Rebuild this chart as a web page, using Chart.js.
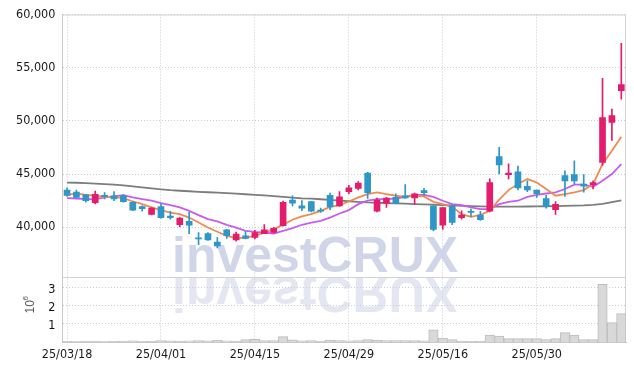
<!DOCTYPE html>
<html>
<head>
<meta charset="utf-8">
<script src="https://cdn.jsdelivr.net/npm/chart.js@4.4.1/dist/chart.umd.min.js"></script>
<style>
    html, body { margin: 0; padding: 0; background: #fff; }
    #wrap { width: 634px; height: 370px; }
</style>
</head>
<body>
<div id="wrap"><canvas id="stock-chart" width="634" height="370"></canvas></div>
<script>
const dates = [
    "25/03/18", "25/03/19", "25/03/20", "25/03/21", "25/03/24", "25/03/25", "25/03/26", "25/03/27", "25/03/28", "25/03/31",
    "25/04/01", "25/04/02", "25/04/03", "25/04/04", "25/04/07", "25/04/08", "25/04/09", "25/04/10", "25/04/11", "25/04/14",
    "25/04/15", "25/04/16", "25/04/17", "25/04/18", "25/04/21", "25/04/22", "25/04/23", "25/04/24", "25/04/25", "25/04/28",
    "25/04/29", "25/04/30", "25/05/02", "25/05/07", "25/05/08", "25/05/09", "25/05/12", "25/05/13", "25/05/14", "25/05/15",
    "25/05/16", "25/05/19", "25/05/20", "25/05/21", "25/05/22", "25/05/23", "25/05/26", "25/05/27", "25/05/28", "25/05/29",
    "25/05/30", "25/06/02", "25/06/04", "25/06/05", "25/06/09", "25/06/10", "25/06/11", "25/06/12", "25/06/13", "25/06/16"
];
const openPrices = [
    43500, 43300, 43050, 42300, 43000, 42950, 42950, 42350, 41950, 41200,
    41950, 41050, 40250, 40550, 38950, 39400, 38600, 39750, 38800, 39200,
    39050, 39400, 39500, 40150, 42550, 42000, 42400, 41600, 43000, 42000,
    43350, 43650, 45100, 41500, 42250, 42800, 42950, 42750, 43450, 42000,
    40200, 42000, 40900, 41500, 41150, 41500, 46650, 44950, 45200, 43850,
    43500, 42700, 41650, 44850, 44950, 44050, 44000, 46100, 49850, 52850
];
const highPrices = [
    43700, 43500, 43100, 43400, 43250, 43350, 43050, 42400, 42000, 41850,
    42200, 41500, 40900, 41400, 39500, 39500, 39050, 39800, 39550, 39600,
    39700, 40250, 40000, 42450, 42950, 42500, 42400, 41800, 43200, 43350,
    43950, 44300, 45150, 42750, 42800, 43150, 44000, 43200, 43650, 42000,
    41850, 42000, 41550, 41700, 41500, 44550, 47500, 45950, 45750, 44350,
    43500, 43000, 42400, 45300, 46250, 44950, 44350, 54000, 51100, 57300
];
const lowPrices = [
    42900, 42750, 42350, 42200, 42650, 42500, 42350, 41550, 41500, 41150,
    40850, 40750, 40050, 39400, 38350, 38750, 38050, 38950, 38700, 38900,
    38900, 39400, 39450, 40100, 42000, 41550, 41450, 41400, 41650, 41950,
    43150, 43500, 42700, 41450, 41850, 42200, 42700, 42150, 43000, 39650,
    39800, 40250, 40750, 41000, 40650, 41450, 45000, 44550, 43500, 43350,
    42800, 41800, 41200, 42900, 44100, 43300, 43600, 45800, 48150, 52050
];
const closePrices = [
    43000, 42800, 42500, 43100, 42900, 42650, 42400, 41600, 41750, 41800,
    40900, 40900, 40850, 40200, 38900, 38800, 38250, 39200, 39350, 38950,
    39500, 39750, 39900, 42350, 42250, 41800, 41500, 41500, 41900, 42850,
    43700, 44150, 43250, 42550, 42750, 42250, 42750, 43150, 43250, 39800,
    41850, 40450, 41150, 41400, 40700, 44200, 45850, 45100, 43700, 43500,
    43150, 41950, 42150, 44350, 44350, 43850, 44200, 50300, 50500, 53400
];
const volumes = [
    40000, 30000, 50000, 50000, 30000, 40000, 50000, 60000, 40000, 50000,
    80000, 60000, 50000, 70000, 80000, 60000, 90000, 70000, 50000, 130000,
    150000, 80000, 80000, 300000, 120000, 60000, 80000, 50000, 100000, 80000,
    70000, 80000, 130000, 100000, 80000, 80000, 80000, 80000, 70000, 670000,
    220000, 130000, 50000, 50000, 50000, 390000, 330000, 190000, 190000, 190000,
    190000, 130000, 190000, 520000, 390000, 130000, 130000, 3200000, 1070000, 1570000
];
// moving averages
const ma5 = [
    43050, 43170, 43050, 42960, 42860, 42860, 42740, 42420, 42180, 41860,
    41610, 41380, 41230, 40910, 40440, 39970, 39570, 39190, 38970, 39030,
    39190, 39500, 39820, 40230, 40700, 41010, 41230, 41540, 41920, 42080,
    42420, 42800, 43120, 43270, 43120, 42960, 42860, 42960, 42900, 42390,
    42170, 41920, 41230, 40980, 41170, 41540, 42600, 43490, 44060, 44530,
    44210, 43590, 42960, 43120, 43270, 43490, 44060, 45940, 47190, 48510
];
const ma10 = [
    42740, 42700, 42640, 42640, 42800, 42900, 43020, 42800, 42640, 42490,
    42270, 42080, 41860, 41540, 41140, 40760, 40540, 40230, 39970, 39660,
    39570, 39500, 39410, 39660, 39920, 40230, 40440, 40600, 40910, 41290,
    41610, 42170, 42490, 42650, 42650, 42700, 42860, 43050, 43050, 42860,
    42490, 42170, 42080, 41860, 41700, 41700, 42170, 42390, 42490, 42860,
    43050, 43170, 43270, 43590, 44000, 44000, 43800, 44370, 45000, 45940
];
const ma60 = [
    44200, 44180, 44150, 44100, 44050, 44000, 43930, 43850, 43750, 43650,
    43560, 43480, 43430, 43380, 43330, 43290, 43250, 43200, 43150, 43100,
    43050, 43000, 42930, 42850, 42780, 42720, 42680, 42630, 42570, 42500,
    42440, 42380, 42330, 42300, 42270, 42240, 42210, 42180, 42150, 42120,
    42080, 42050, 42020, 41990, 41960, 41940, 41930, 41930, 41940, 41950,
    41960, 41970, 41990, 42010, 42030, 42060, 42110, 42200, 42350, 42520
];
const priceTicks = [40000, 45000, 50000, 55000, 60000];
const volumeTicks = [1000000, 2000000, 3000000];
const volumeTickLabels = ["1", "2", "3"];

const upColor = "#e31c6c";
const downColor = "#2e96c8";
const gridColor = "#c9cbd8";
const fontFamily = "'DejaVu Sans Condensed', 'DejaVu Sans'";
const axisFont = { family: fontFamily, size: 12.5 };
const candleColors = openPrices.map((o, i) => (closePrices[i] >= o ? upColor : downColor));

// watermark + its reflection, drawn under everything
const watermark = {
    id: "watermark",
    beforeDraw(chart) {
        const ctx = chart.ctx;
        ctx.save();
        ctx.font = "bold 50px 'Liberation Sans'";
        ctx.fillStyle = "#d1d5e8";
        ctx.fillText("investCRUX", 172, 272);
        ctx.translate(0, 549);
        ctx.scale(1, -1);
        ctx.fillStyle = "#e4e6f1";
        ctx.fillText("investCRUX", 172, 272);
        ctx.restore();
    }
};

// frame and panel separator
const frame = {
    id: "frame",
    beforeDatasetsDraw(chart) {
        const ctx = chart.ctx;
        const a = chart.chartArea;
        const sep = chart.scales.y.bottom;
        ctx.save();
        ctx.strokeStyle = "#d2d2d2";
        ctx.lineWidth = 1;
        ctx.beginPath();
        ctx.moveTo(a.left, a.top + 0.5);
        ctx.lineTo(a.right, a.top + 0.5);
        ctx.moveTo(a.right - 0.5, a.top);
        ctx.lineTo(a.right - 0.5, a.bottom);
        ctx.moveTo(a.left, Math.round(sep) + 0.5);
        ctx.lineTo(a.right, Math.round(sep) + 0.5);
        ctx.stroke();
        ctx.restore();
    }
};

// volume tick labels and the 10^6 unit, drawn last
const volumeLabels = {
    id: "volumeLabels",
    afterDraw(chart) {
        const ctx = chart.ctx;
        const a = chart.chartArea;
        const vol = chart.scales.yVol;
        ctx.save();
        ctx.fillStyle = "#111";
        ctx.font = "12.5px " + fontFamily;
        ctx.textAlign = "right";
        ctx.textBaseline = "alphabetic";
        volumeTicks.forEach((v, i) => {
            const py = Math.round(vol.getPixelForValue(v)) + 4.5;
            ctx.fillText(volumeTickLabels[i], a.left - 7, py);
        });
        ctx.restore();

        ctx.save();
        const cy = (vol.top + vol.bottom) / 2 + 4;
        ctx.translate(34, cy);
        ctx.rotate(-Math.PI / 2);
        ctx.textAlign = "left";
        ctx.textBaseline = "alphabetic";
        ctx.fillStyle = "#555";
        ctx.font = "12px 'Liberation Sans'";
        ctx.fillText("10", 0, 0);
        ctx.font = "8px 'Liberation Sans'";
        ctx.fillText("6", 13, -6);
        ctx.restore();
    }
};

new Chart("stock-chart", {
    type: "bar",
    data: {
        labels: dates,
        datasets: [
            {
                label: "body",
                data: openPrices.map((o, i) => [o, closePrices[i]]),
                backgroundColor: candleColors,
                barThickness: 6,
                minBarLength: 1,
                grouped: false,
                yAxisID: "y",
                order: 0
            },
            {
                label: "wick",
                data: lowPrices.map((l, i) => [l, highPrices[i]]),
                backgroundColor: candleColors,
                barThickness: 1,
                grouped: false,
                yAxisID: "y",
                order: 1
            },
            {
                type: "line",
                label: "MA5",
                data: ma5,
                borderColor: "#f08b50",
                borderWidth: 1.8,
                pointRadius: 0,
                yAxisID: "y",
                order: 2
            },
            {
                type: "line",
                label: "MA10",
                data: ma10,
                borderColor: "#c85cf0",
                borderWidth: 1.8,
                pointRadius: 0,
                yAxisID: "y",
                order: 2
            },
            {
                type: "line",
                label: "MA60",
                data: ma60,
                borderColor: "#7d7d7d",
                borderWidth: 1.8,
                pointRadius: 0,
                yAxisID: "y",
                order: 2
            },
            {
                label: "volume",
                data: volumes,
                backgroundColor: "#d9d9d9",
                borderColor: "#bdbdbd",
                borderWidth: 1,
                barPercentage: 1,
                categoryPercentage: 1,
                grouped: false,
                yAxisID: "yVol",
                order: 3
            }
        ]
    },
    options: {
        responsive: false,
        animation: false,
        layout: { padding: { left: 9, right: 8, top: 14, bottom: 3 } },
        plugins: {
            legend: { display: false },
            tooltip: { enabled: false }
        },
        scales: {
            x: {
                offset: true,
                grid: {
                    offset: false,
                    drawTicks: false,
                    color: (c) => (c.index % 10 === 0 ? gridColor : "rgba(0,0,0,0)")
                },
                border: { color: "#c8c8c8", dash: [1, 2] },
                ticks: {
                    autoSkip: false,
                    maxRotation: 0,
                    padding: 5,
                    color: "#1a1a1a",
                    font: axisFont,
                    callback: (v, i) => (i % 10 === 0 ? dates[i] : "")
                }
            },
            yVol: {
                position: "left",
                stack: "panes",
                stackWeight: 1,
                min: 0,
                max: 3610000,
                afterBuildTicks: (s) => { s.ticks = volumeTicks.map((v) => ({ value: v })); },
                grid: { color: gridColor, drawTicks: false },
                border: { color: "#c8c8c8", dash: [1, 2] },
                ticks: { display: false }
            },
            y: {
                position: "left",
                stack: "panes",
                stackWeight: 4.03,
                min: 35330,
                max: 60000,
                afterBuildTicks: (s) => { s.ticks = priceTicks.map((v) => ({ value: v })); },
                grid: { color: gridColor, drawTicks: false },
                border: { color: "#c8c8c8", dash: [1, 2] },
                ticks: {
                    autoSkip: false,
                    padding: 7,
                    color: "#1a1a1a",
                    font: axisFont,
                    callback: (v) => v.toLocaleString("en-US")
                }
            }
        }
    },
    plugins: [watermark, frame, volumeLabels]
});
</script>
</body>
</html>
